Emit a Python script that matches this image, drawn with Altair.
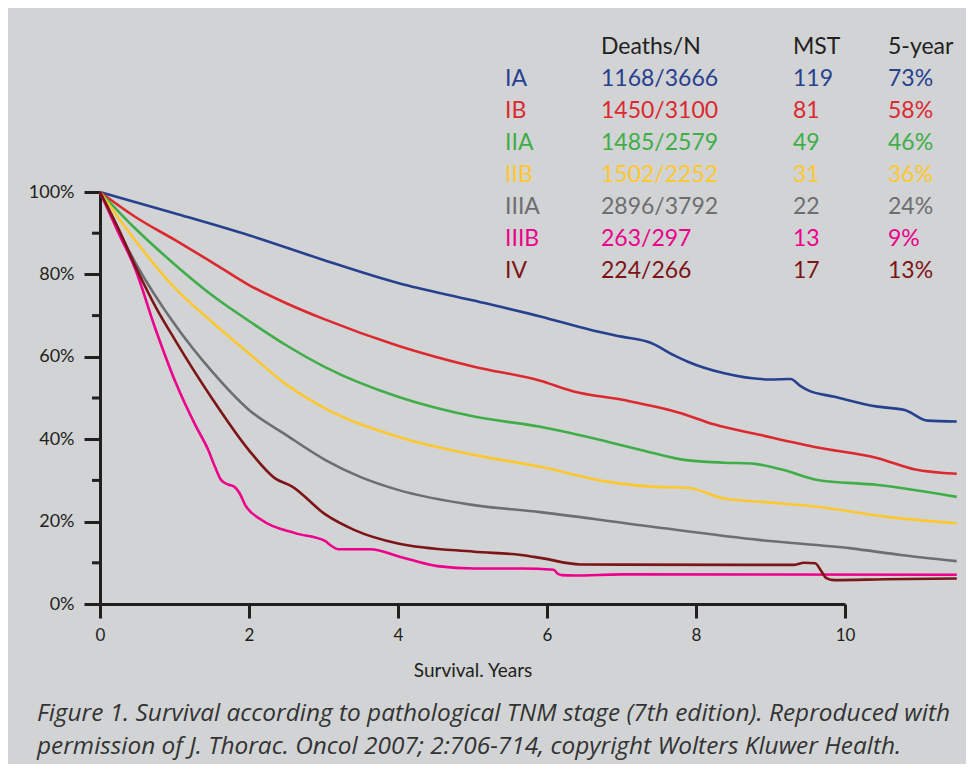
import altair as alt
import pandas as pd

FONT = "Lato"
CAP_FONT = "Open Sans"
AXIS_COL = "#231f20"
BG = "#d1d3d4"

# ---- table values ----
stages = ["IA", "IB", "IIA", "IIB", "IIIA", "IIIB", "IV"]
deaths_n = ["1168/3666", "1450/3100", "1485/2579", "1502/2252", "2896/3792", "263/297", "224/266"]
mst = ["119", "81", "49", "31", "22", "13", "17"]
five_year = ["73%", "58%", "46%", "36%", "24%", "9%", "13%"]
headers = ["", "Deaths/N", "MST", "5-year"]
stage_colors = ["#27408f", "#dc2930", "#3fae49", "#fdc82f", "#6d6e71", "#ec008c", "#7d1518"]
header_color = "#231f20"

# ---- survival curves (years, % surviving) ----
ia_years = [0, 1.01, 2.0, 3.0, 4.0, 5.0, 5.91, 6.59, 7.0, 7.39, 7.7, 7.89, 8.38, 9.0, 9.27, 9.41, 9.5, 9.86, 10.44, 10.8, 11.11, 11.5]
ia_surv = [100, 94.8, 89.5, 83.5, 77.9, 73.7, 69.8, 66.5, 64.9, 63.4, 60.4, 58.8, 56.0, 54.5, 54.6, 52.8, 51.9, 50.3, 47.9, 47.1, 44.5, 44.3]

ib_years = [0, 0.47, 1.01, 1.5, 2.0, 2.5, 3.0, 4.0, 5.02, 5.91, 6.36, 7.03, 7.8, 8.24, 8.87, 9.63, 10.44, 10.93, 11.5]
ib_surv = [100, 94.0, 88.3, 83.0, 77.4, 73.0, 69.2, 62.7, 57.6, 54.2, 51.6, 49.5, 46.3, 43.6, 41.0, 38.0, 35.4, 32.7, 31.6]

iia_years = [0, 0.47, 1.01, 1.5, 2.0, 2.5, 3.02, 4.0, 5.02, 5.91, 6.81, 7.26, 7.8, 8.38, 8.74, 9.18, 9.63, 10.44, 11.5]
iia_surv = [100, 91.2, 82.3, 75.0, 68.7, 62.8, 57.5, 50.3, 45.5, 43.0, 39.4, 37.4, 35.1, 34.3, 34.1, 32.5, 30.1, 28.9, 26.0]

iib_years = [0, 0.47, 1.01, 1.5, 2.0, 2.5, 3.02, 4.0, 5.02, 5.91, 6.81, 7.39, 7.89, 8.38, 8.87, 9.63, 10.53, 11.5]
iib_surv = [100, 88.3, 76.6, 68.5, 60.8, 53.3, 47.5, 40.6, 36.2, 33.3, 29.7, 28.5, 28.2, 25.6, 24.8, 23.6, 21.2, 19.6]

iiia_years = [0, 0.47, 1.01, 1.5, 2.0, 2.5, 3.02, 3.5, 4.0, 5.02, 5.91, 7.39, 8.87, 10.08, 10.75, 11.5]
iiia_surv = [100, 83.0, 67.7, 56.5, 47.1, 41.0, 35.0, 30.8, 27.7, 24.0, 22.3, 18.8, 15.5, 13.5, 11.9, 10.4]

iiib_years = [0, 0.25, 0.47, 0.74, 1.01, 1.28, 1.45, 1.55, 1.63, 1.72, 1.8, 1.87, 1.95, 2.17, 2.62, 3.02, 3.1, 3.2, 3.63, 4.0, 4.53, 5.02, 5.65, 6.09, 6.14, 6.2, 6.36, 7.0, 11.5]
iiib_surv = [100, 90.0, 81.5, 67.0, 54.0, 43.4, 37.5, 33.0, 30.0, 29.0, 28.5, 27.0, 24.0, 20.4, 17.2, 15.3, 14.2, 13.3, 13.3, 11.6, 9.2, 8.6, 8.6, 8.3, 7.4, 7.0, 6.9, 7.2, 7.1]

iv_years = [0, 0.25, 0.5, 0.75, 1.01, 1.5, 2.0, 2.35, 2.58, 3.02, 3.41, 4.0, 5.02, 5.65, 5.91, 6.45, 8.74, 9.32, 9.45, 9.6, 9.68, 9.75, 9.86, 10.53, 11.5]
iv_surv = [100, 91.0, 81.0, 72.0, 64.0, 50.0, 37.3, 30.5, 28.5, 21.8, 18.0, 14.7, 12.7, 11.9, 11.2, 9.6, 9.5, 9.5, 10.0, 9.9, 8.0, 6.3, 5.8, 6.0, 6.2]

curve_years = [ia_years, ib_years, iia_years, iib_years, iiia_years, iiib_years, iv_years]
curve_surv = [ia_surv, ib_surv, iia_surv, iib_surv, iiia_surv, iiib_surv, iv_surv]

x_major = [0, 2, 4, 6, 8, 10]
y_major = [0, 20, 40, 60, 80, 100]
y_minor = [10, 30, 50, 70, 90]

caption = [
    "Figure 1. Survival according to pathological TNM stage (7th edition). Reproduced with",
    "permission of J. Thorac. Oncol 2007; 2:706-714, copyright Wolters Kluwer Health.",
]

# ---- build tables ----
rows = []
for st, yrs, sv in zip(stages, curve_years, curve_surv):
    for i, (x, y) in enumerate(zip(yrs, sv)):
        rows.append({"stage": st, "year": x, "surv": y, "order": i})
curves = pd.DataFrame(rows)

table = pd.DataFrame({
    "row": list(range(len(stages) + 1)),
    "key": ["Header"] + stages,
    "stage": [headers[0]] + stages,
    "deaths": [headers[1]] + deaths_n,
    "mst": [headers[2]] + mst,
    "five": [headers[3]] + five_year,
})
minor_df = pd.DataFrame({"v": y_minor})

# plot area spans 0..10 years; curves continue past the axis end (not clipped)
W, H = 745, 412
x_scale = alt.Scale(domain=[0, 10], nice=False, zero=False)
y_scale = alt.Scale(domain=[0, 100], nice=False)
color_scale = alt.Scale(domain=["Header"] + stages, range=[header_color] + stage_colors)

lines = alt.Chart(curves).mark_line(interpolate="monotone", strokeWidth=2.6, clip=False).encode(
    x=alt.X("year:Q", scale=x_scale, axis=alt.Axis(
        values=x_major, grid=False, domainWidth=3, domainColor=AXIS_COL,
        tickSize=14, tickWidth=3, tickColor=AXIS_COL, labelFlush=False,
        labelFontSize=17, labelPadding=9, labelColor=AXIS_COL, labelFont=FONT,
        title="Survival. Years", titleFont=FONT, titleFontSize=19,
        titleFontWeight="normal", titleColor=AXIS_COL, titlePadding=18)),
    y=alt.Y("surv:Q", scale=y_scale, axis=alt.Axis(
        values=y_major, labelExpr="datum.value + '%'", grid=False, domainWidth=3,
        domainColor=AXIS_COL, tickSize=16, tickWidth=3, tickColor=AXIS_COL, labelFlush=False,
        labelFontSize=18, labelPadding=10, labelColor=AXIS_COL, labelFont=FONT, title=None)),
    color=alt.Color("stage:N", scale=color_scale, legend=None),
    order="order:Q",
)

# minor ticks on the y axis, placed through their own copy of the percent scale
minor_ticks = alt.Chart(minor_df).mark_rule(strokeWidth=3, color=AXIS_COL).encode(
    x=alt.value(-8),
    x2=alt.value(0),
    y=alt.Y("v:Q", scale=alt.Scale(domain=[0, 100], nice=False), axis=None),
)

base_text = alt.Chart(table).mark_text(align="left", baseline="middle", fontSize=23, font=FONT).encode(
    y=alt.Y("row:Q", scale=alt.Scale(domain=[0, len(stages)], range=[-145, 79]), axis=None),
    color=alt.Color("key:N", scale=color_scale, legend=None),
)
t_stage = base_text.encode(x=alt.value(405), text="stage:N")
t_deaths = base_text.encode(x=alt.value(501), text="deaths:N")
t_mst = base_text.encode(x=alt.value(693), text="mst:N")
t_five = base_text.encode(x=alt.value(788), text="five:N")

chart = alt.layer(
    lines, minor_ticks, t_stage, t_deaths, t_mst, t_five
).resolve_scale(y="independent").properties(
    width=W, height=H,
    padding={"left": 92, "top": 184, "right": 121, "bottom": 160},
    autosize=alt.AutoSizeParams(type="none"),
    title=alt.TitleParams(
        text=caption, orient="bottom", anchor="start", frame="group", dx=-63, offset=22,
        font=CAP_FONT, fontSize=24.4, fontStyle="italic", fontWeight="normal",
        color="#333333", lineHeight=33,
    ),
).configure(background=BG).configure_view(stroke=None)

chart.save("out.html", embed_options={"renderer": "svg", "actions": False})
